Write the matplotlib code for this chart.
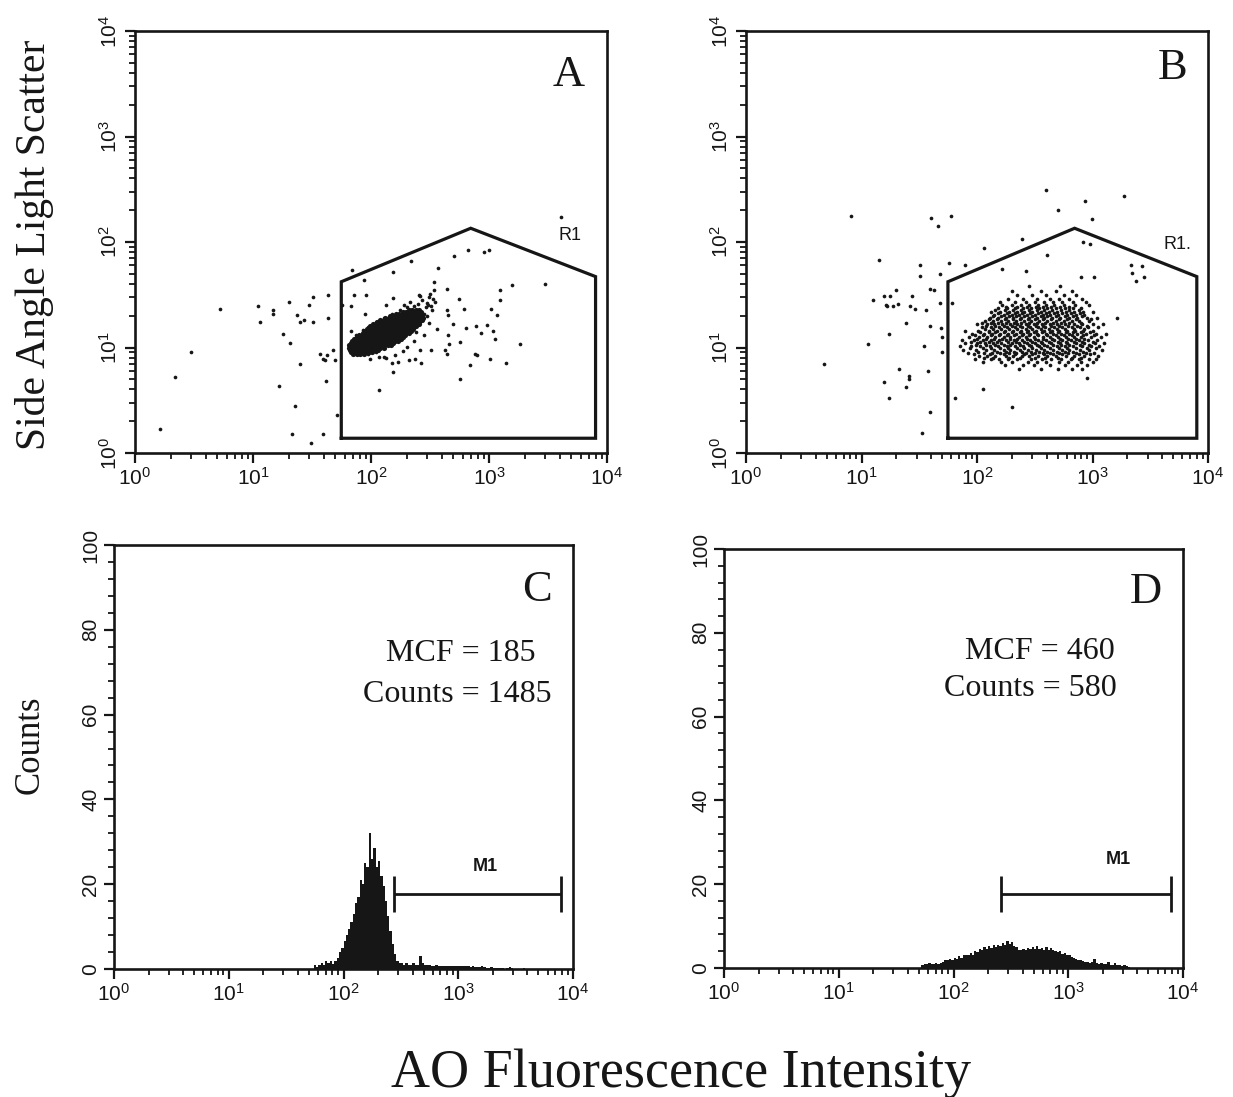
import numpy as np
import matplotlib
matplotlib.use("Agg")
import matplotlib.pyplot as plt
from matplotlib.ticker import LogLocator, MultipleLocator, NullFormatter

# ---------------- data ----------------
# R1 gate polygon (same region in A and B)
gate_x = [56, 56, 700, 8000, 8000, 56]
gate_y = [1.38, 42, 135, 47, 1.38, 1.38]

# Panel A: individual events (x = AO fluorescence, y = side scatter)
a_events = [
    (1.63, 1.68), (2.18, 5.2), (2.97, 9.1), (5.3, 23.4), (11.0, 24.7), (11.5, 17.5),
    (14.9, 21), (14.9, 22.9), (20, 27), (18.1, 13.5), (20.6, 11.1), (23.8, 20.2),
    (24.8, 17.5), (27.1, 18.4), (32.5, 17.5), (29.9, 25.5), (32.5, 30.1), (43, 31.2),
    (43.6, 19.2), (25.1, 7.0), (16.6, 4.3), (22.5, 2.77), (21.6, 1.52), (30.9, 1.25),
    (39, 1.52), (51.3, 2.28), (41.4, 4.78), (37, 8.7), (39, 7.8), (42.2, 8.4), (48, 9.4),
    (41, 7.6), (49.7, 7.6), (56.6, 25.1), (68.8, 54.7), (71.1, 31.2), (91, 31.2), (88, 44),
    (67.9, 24.5), (89, 21), (67.4, 14.2), (72, 9.4), (155, 52), (218, 66), (153, 29.4),
    (134, 25.5), (253, 31.2), (339, 41.8), (369, 56.7), (318, 32.4), (339, 34.7), (350, 27),
    (307, 25.1), (328, 22.5), (440, 36.1), (507, 73), (662, 84.6), (900, 80.4), (991, 84.6),
    (552, 29), (608, 23.4), (440, 22.5), (449, 20.2), (491, 16.8), (637, 15.3), (775, 15.9),
    (859, 13.7), (960, 16.2), (1072, 14.3), (1045, 23.4), (1230, 28), (1245, 34.8),
    (1167, 20.2), (1564, 38.8), (3000, 40.3), (1130, 12.1), (1840, 10.9), (570, 11.3),
    (449, 13.0), (454, 10.9), (420, 9.5), (440, 8.7), (764, 8.7), (789, 8.4), (693, 6.9),
    (1025, 7.8), (1400, 7.1), (570, 5.07), (324, 9.5), (366, 15.1), (261, 9.5), (266, 7.1),
    (237, 7.8), (208, 7.6), (171, 7.3), (150, 7.1), (155, 5.9), (116, 3.93), (98, 7.8),
    (128, 8.1), (4100, 173),
    (80, 12.5), (85, 9.8), (95, 8.6), (110, 9.0), (118, 8.2), (135, 8.0), (160, 8.5),
    (185, 9.2), (200, 10.2), (230, 11.5), (240, 14), (255, 17), (270, 19), (280, 21),
    (290, 24), (300, 26.5), (310, 30), (270, 28), (250, 26), (230, 25), (200, 24),
    (175, 22.5), (150, 21), (130, 19), (110, 17.5), (95, 15.5), (85, 14.5), (75, 13),
    (105, 11.0), (300, 20), (320, 24.5), (335, 29), (310, 17), (280, 13), (92, 10.6),
    (88, 11.4), (260, 30.5), (215, 27), (190, 25.5),
]

# Panel A dense population: rows of (log10 side scatter, [log10 fluorescence ...])
a_core_log10 = [
    (0.94, [1.85, 1.88, 1.91, 1.94]),
    (0.96, [1.83, 1.86, 1.89, 1.92, 1.95, 1.98, 2.01]),
    (0.98, [1.82, 1.85, 1.88, 1.91, 1.94, 1.97, 2.00, 2.03, 2.06]),
    (1.00, [1.81, 1.84, 1.87, 1.90, 1.93, 1.96, 1.99, 2.02, 2.05, 2.08, 2.11]),
    (1.02, [1.81, 1.84, 1.87, 1.90, 1.93, 1.96, 1.99, 2.02, 2.05, 2.08, 2.11, 2.14, 2.17]),
    (1.04, [1.83, 1.86, 1.89, 1.92, 1.95, 1.98, 2.01, 2.04, 2.07, 2.10, 2.13, 2.16, 2.19]),
    (1.06, [1.84, 1.87, 1.90, 1.93, 1.96, 1.99, 2.02, 2.05, 2.08, 2.11, 2.14, 2.17, 2.20, 2.23]),
    (1.08, [1.86, 1.89, 1.92, 1.95, 1.98, 2.01, 2.04, 2.07, 2.10, 2.13, 2.16, 2.19, 2.22, 2.25]),
    (1.10, [1.88, 1.91, 1.94, 1.97, 2.00, 2.03, 2.06, 2.09, 2.12, 2.15, 2.18, 2.21, 2.24, 2.27]),
    (1.12, [1.90, 1.93, 1.96, 1.99, 2.02, 2.05, 2.08, 2.11, 2.14, 2.17, 2.20, 2.23, 2.26, 2.29]),
    (1.14, [1.93, 1.96, 1.99, 2.02, 2.05, 2.08, 2.11, 2.14, 2.17, 2.20, 2.23, 2.26, 2.29, 2.32]),
    (1.16, [1.95, 1.98, 2.01, 2.04, 2.07, 2.10, 2.13, 2.16, 2.19, 2.22, 2.25, 2.28, 2.31, 2.34]),
    (1.18, [1.97, 2.00, 2.03, 2.06, 2.09, 2.12, 2.15, 2.18, 2.21, 2.24, 2.27, 2.30, 2.33, 2.36]),
    (1.20, [1.99, 2.02, 2.05, 2.08, 2.11, 2.14, 2.17, 2.20, 2.23, 2.26, 2.29, 2.32, 2.35, 2.38]),
    (1.22, [2.02, 2.05, 2.08, 2.11, 2.14, 2.17, 2.20, 2.23, 2.26, 2.29, 2.32, 2.35, 2.38, 2.41]),
    (1.24, [2.05, 2.08, 2.11, 2.14, 2.17, 2.20, 2.23, 2.26, 2.29, 2.32, 2.35, 2.38, 2.41]),
    (1.26, [2.08, 2.11, 2.14, 2.17, 2.20, 2.23, 2.26, 2.29, 2.32, 2.35, 2.38, 2.41, 2.43]),
    (1.28, [2.12, 2.15, 2.18, 2.21, 2.24, 2.27, 2.30, 2.33, 2.36, 2.39, 2.42, 2.44]),
    (1.30, [2.16, 2.19, 2.22, 2.25, 2.28, 2.31, 2.34, 2.37, 2.40, 2.43]),
    (1.32, [2.21, 2.24, 2.27, 2.30, 2.33, 2.36, 2.39, 2.42]),
    (1.34, [2.27, 2.30, 2.33, 2.36, 2.39, 2.42]),
    (1.36, [2.32, 2.35, 2.38, 2.41]),
]

# Panel B: individual events outside the main cloud
b_events = [
    (4.7, 7.0), (8.1, 178), (11.4, 10.8), (12.5, 27.9), (14.3, 68), (15.6, 30.6), (17.8, 30.6),
    (16.3, 25.5), (16.7, 24.6), (19.7, 35.4), (20.6, 25.9), (18.7, 24.6), (17.2, 13.5),
    (15.6, 4.68), (17.2, 3.3), (21.3, 6.3), (24.3, 17.1), (25.7, 5.4), (25.7, 5.07), (24.3, 4.2),
    (27.1, 31), (26.5, 25), (32, 61), (32, 48), (29.3, 23.2), (34.6, 10.3), (36.5, 22.9),
    (37.7, 6.0), (39, 36), (42.3, 35.4), (40, 169), (39.5, 16.1), (39.5, 2.43), (45.8, 143),
    (47.6, 50), (47.6, 26.5), (49, 15.3), (49.9, 12.5), (49.9, 9.0), (33.5, 1.55), (57, 63.4),
    (60.1, 176), (61, 26.5), (65.1, 3.3), (78.5, 61), (115, 88), (113, 4.05), (202, 2.73),
    (243, 107), (405, 74.5), (392, 310), (501, 203), (859, 244), (995, 166), (1870, 272),
    (826, 99.6), (944, 94.7), (2138, 61), (2210, 51), (2700, 59), (2790, 47), (2360, 42.5),
    (1637, 19.1), (901, 5.15), (789, 47), (1028, 47), (267, 53), (163, 55.6),
]

# Panel B main cloud: rows of (log10 side scatter, [log10 fluorescence ...])
b_cloud_log10 = [
    (0.80, [2.36, 2.55, 2.70, 2.82, 2.91]),
    (0.83, [2.24, 2.40, 2.49, 2.63, 2.76, 2.87, 2.95]),
    (0.86, [2.05, 2.21, 2.30, 2.44, 2.52, 2.60, 2.71, 2.79, 2.90, 3.00]),
    (0.89, [1.98, 2.12, 2.19, 2.27, 2.35, 2.47, 2.56, 2.64, 2.73, 2.81, 2.88, 2.97, 3.03]),
    (0.92, [2.02, 2.09, 2.16, 2.25, 2.31, 2.39, 2.45, 2.53, 2.61, 2.68, 2.77, 2.84, 2.93, 3.05]),
    (0.95, [1.92, 2.06, 2.13, 2.20, 2.28, 2.34, 2.42, 2.50, 2.57, 2.63, 2.71, 2.79, 2.86, 2.94, 3.01]),
    (0.98, [1.88, 1.99, 2.08, 2.15, 2.23, 2.29, 2.37, 2.44, 2.51, 2.58, 2.66, 2.74, 2.80, 2.89, 2.97, 3.08]),
    (1.01, [1.85, 1.95, 2.03, 2.11, 2.18, 2.26, 2.33, 2.40, 2.47, 2.54, 2.61, 2.69, 2.76, 2.83, 2.91, 2.99, 3.06]),
    (1.04, [1.90, 2.00, 2.07, 2.14, 2.21, 2.30, 2.36, 2.43, 2.50, 2.56, 2.64, 2.72, 2.78, 2.86, 2.93, 3.02, 3.10]),
    (1.07, [1.87, 1.97, 2.05, 2.12, 2.19, 2.25, 2.32, 2.39, 2.46, 2.53, 2.60, 2.67, 2.74, 2.81, 2.88, 2.96, 3.04]),
    (1.10, [1.93, 2.02, 2.09, 2.16, 2.23, 2.29, 2.36, 2.42, 2.49, 2.57, 2.63, 2.70, 2.77, 2.84, 2.90, 2.99, 3.07]),
    (1.13, [1.96, 2.06, 2.13, 2.20, 2.27, 2.34, 2.40, 2.46, 2.52, 2.60, 2.66, 2.73, 2.80, 2.87, 2.94, 3.03, 3.12]),
    (1.16, [1.90, 2.01, 2.10, 2.17, 2.24, 2.31, 2.38, 2.44, 2.51, 2.58, 2.65, 2.71, 2.78, 2.85, 2.92, 3.00]),
    (1.19, [2.04, 2.12, 2.19, 2.26, 2.33, 2.39, 2.46, 2.53, 2.59, 2.67, 2.74, 2.82, 2.89, 2.96, 3.05]),
    (1.22, [2.00, 2.09, 2.15, 2.22, 2.29, 2.35, 2.42, 2.49, 2.56, 2.63, 2.69, 2.76, 2.84, 2.91, 3.00, 3.09]),
    (1.25, [2.07, 2.14, 2.21, 2.27, 2.34, 2.41, 2.47, 2.54, 2.61, 2.68, 2.75, 2.82, 2.88, 2.97]),
    (1.28, [2.11, 2.18, 2.25, 2.31, 2.38, 2.45, 2.52, 2.58, 2.65, 2.72, 2.80, 2.87, 2.95, 3.04]),
    (1.31, [2.15, 2.23, 2.30, 2.36, 2.43, 2.50, 2.57, 2.63, 2.70, 2.78, 2.86, 2.93]),
    (1.34, [2.12, 2.20, 2.28, 2.35, 2.41, 2.48, 2.55, 2.62, 2.69, 2.77, 2.84, 2.92, 3.00]),
    (1.37, [2.18, 2.26, 2.33, 2.40, 2.47, 2.54, 2.61, 2.68, 2.76, 2.83, 2.90]),
    (1.40, [2.22, 2.30, 2.38, 2.45, 2.53, 2.60, 2.67, 2.75, 2.85, 2.97]),
    (1.43, [2.20, 2.33, 2.42, 2.50, 2.58, 2.66, 2.74, 2.83, 2.94]),
    (1.46, [2.27, 2.40, 2.52, 2.63, 2.71, 2.80, 2.91]),
    (1.50, [2.35, 2.48, 2.60, 2.75, 2.86]),
    (1.54, [2.30, 2.55, 2.68, 2.82]),
    (1.58, [2.45, 2.72]),
    (0.905, [2.06, 2.14, 2.28, 2.37, 2.50, 2.59, 2.70, 2.82, 2.90]),
    (0.937, [1.97, 2.11, 2.23, 2.33, 2.41, 2.48, 2.58, 2.66, 2.74, 2.88, 2.98]),
    (0.962, [2.01, 2.17, 2.25, 2.32, 2.39, 2.47, 2.54, 2.61, 2.69, 2.76, 2.83, 2.92]),
    (0.994, [1.94, 2.05, 2.12, 2.20, 2.27, 2.35, 2.41, 2.48, 2.55, 2.63, 2.71, 2.78, 2.86, 2.95, 3.03]),
    (1.023, [1.99, 2.08, 2.16, 2.23, 2.29, 2.37, 2.45, 2.52, 2.58, 2.66, 2.73, 2.80, 2.89, 2.97]),
    (1.056, [1.95, 2.03, 2.10, 2.17, 2.27, 2.34, 2.41, 2.48, 2.55, 2.62, 2.70, 2.77, 2.84, 2.91, 3.00]),
    (1.083, [2.00, 2.08, 2.15, 2.22, 2.29, 2.35, 2.43, 2.50, 2.57, 2.65, 2.72, 2.79, 2.86, 2.93]),
    (1.117, [1.98, 2.05, 2.12, 2.19, 2.26, 2.32, 2.39, 2.45, 2.53, 2.61, 2.68, 2.75, 2.82, 2.92, 3.01]),
    (1.145, [2.03, 2.10, 2.16, 2.23, 2.30, 2.37, 2.43, 2.49, 2.56, 2.63, 2.70, 2.77, 2.83, 2.90, 2.98]),
    (1.176, [2.07, 2.14, 2.21, 2.28, 2.35, 2.42, 2.48, 2.55, 2.62, 2.69, 2.76, 2.84, 2.93]),
    (1.205, [2.08, 2.16, 2.23, 2.30, 2.37, 2.44, 2.51, 2.57, 2.64, 2.71, 2.79, 2.87, 2.95]),
    (1.236, [2.04, 2.12, 2.18, 2.25, 2.32, 2.38, 2.45, 2.52, 2.59, 2.66, 2.73, 2.80, 2.90]),
    (1.266, [2.10, 2.17, 2.24, 2.31, 2.37, 2.44, 2.50, 2.57, 2.64, 2.71, 2.78, 2.86, 2.99]),
    (1.295, [2.14, 2.21, 2.28, 2.34, 2.41, 2.48, 2.55, 2.61, 2.68, 2.76, 2.83, 2.91]),
    (1.324, [2.18, 2.26, 2.33, 2.39, 2.46, 2.53, 2.60, 2.67, 2.74, 2.81, 2.89]),
    (1.356, [2.16, 2.24, 2.31, 2.38, 2.45, 2.52, 2.58, 2.65, 2.73, 2.80, 2.88]),
    (1.386, [2.25, 2.35, 2.43, 2.51, 2.57, 2.64, 2.72, 2.80]),
]

# Histograms: bins 0.02 decade wide, first bin starts at given log10 value
hist_bin_width = 0.02
c_start_log10 = 1.74
c_counts = [
    1, 0.5, 1, 1.5, 1, 2, 1.5, 2, 1.2, 2, 2.5,
    4, 5, 6.5, 8, 9.5, 11, 13, 15.5, 17, 21, 20, 25, 24, 32, 26, 28.5, 24, 25.5, 22,
    19.5, 16, 12.5, 9, 6, 3.5, 2,
    1.5, 1.5, 1, 1.5, 1, 1, 1.5, 1, 1, 3, 1.5, 1, 1, 1, 0.8, 0.8, 1, 0.8, 0.8, 0.6,
    0.8, 0.8, 0.6, 0.6, 0.8, 0.6, 0.8, 0.6, 0.8, 0.6, 0.6, 0.5, 0.6, 0.5, 0.4, 0.5,
    0.8, 0.4, 0.3, 0.3, 0.5, 0.3, 0.2, 0.2, 0.2, 0.2, 0, 0.2, 0.5, 0.3, 0, 0, 0, 0, 0.2,
]
d_start_log10 = 1.72
d_counts = [
    0.8, 1, 1, 1.2, 1, 1, 1.2, 1, 1.2, 1.5,
    2, 1.8, 2.2, 2, 2.5, 2.2, 2.8, 2.5, 3, 3.2,
    3, 3.5, 3.2, 4, 3.8, 4.5, 4.2, 5, 4.6, 5.2,
    4.8, 5.5, 5, 5.6, 5.2, 6, 5.5, 6.5, 5.8, 6.2,
    5.2, 5, 4.4, 4.2, 4.6, 4.3, 4.8, 4.5, 5, 4.6,
    5.2, 4.5, 4.8, 4.2, 5, 4.4, 4.8, 4.2, 4, 3.8,
    4, 3.4, 3.6, 3, 3.2, 2.6, 2.5, 2.2, 2, 1.8,
    1.6, 1.4, 1.5, 1.2, 1.4, 2.2, 1.2, 1, 1.2, 0.9,
    1, 1.5, 0.8, 0.8, 1.2, 0.6, 0.8, 0.5, 0.6, 0.4,
    0.3,
]

# M1 marker ranges (x from, x to, level)
m1_c = (275, 7900, 17.7)
m1_d = (257, 7900, 17.6)

panel_letters = ["A", "B", "C", "D"]
c_stats = ["MCF = 185", "Counts = 1485"]
d_stats = ["MCF = 460", "Counts = 580"]

# ---------------- figure ----------------
plt.rcParams["font.family"] = ["Liberation Sans", "DejaVu Sans"]
plt.rcParams["mathtext.fontset"] = "custom"
plt.rcParams["mathtext.rm"] = "Liberation Sans"
plt.rcParams["mathtext.it"] = "Liberation Sans:italic"
plt.rcParams["mathtext.bf"] = "Liberation Sans:bold"

W, H = 1233, 1097
fig = plt.figure(figsize=(W / 100, H / 100), dpi=100)
INK = "#161616"
SERIF = ["Liberation Serif", "DejaVu Serif"]


def px_axes(l, r, t, b):
    return fig.add_axes([l / W, 1 - b / H, (r - l) / W, (b - t) / H])


axA = px_axes(135, 607, 31, 453)
axB = px_axes(746, 1208, 31, 453)
axC = px_axes(114, 573, 545, 969)
axD = px_axes(724, 1183, 549, 968)


def style_common(ax):
    for s in ax.spines.values():
        s.set_linewidth(1.9)
        s.set_color(INK)
    ax.tick_params(which="major", direction="out", length=7, width=1.6,
                   labelsize=15, colors=INK, pad=3)
    ax.tick_params(which="minor", direction="out", length=4, width=1.3, colors=INK)
    ax.tick_params(top=False, right=False)
    ax.tick_params(axis="y", labelrotation=90)
    for lab in ax.get_yticklabels():
        lab.set_va("center")


def log_axis(axis):
    axis.set_major_locator(LogLocator(base=10, numticks=10))
    axis.set_minor_locator(LogLocator(base=10, subs=np.arange(2, 10), numticks=100))
    axis.set_minor_formatter(NullFormatter())


for ax in (axA, axB):
    ax.set_xscale("log")
    ax.set_yscale("log")
    ax.set_xlim(1, 1e4)
    ax.set_ylim(1, 1e4)
    log_axis(ax.xaxis)
    log_axis(ax.yaxis)
    style_common(ax)
    ax.plot(gate_x, gate_y, color=INK, lw=2.3, solid_joinstyle="miter")

for ax in (axC, axD):
    ax.set_xscale("log")
    ax.set_xlim(1, 1e4)
    ax.set_ylim(0, 100)
    log_axis(ax.xaxis)
    ax.yaxis.set_major_locator(MultipleLocator(20))
    ax.yaxis.set_minor_locator(MultipleLocator(4))
    style_common(ax)

# Panel A points
ae = np.array(a_events)
axA.scatter(ae[:, 0], ae[:, 1], s=7, color=INK, linewidths=0, zorder=3)
core_x = [10 ** lx for ly, row in a_core_log10 for lx in row]
core_y = [10 ** ly for ly, row in a_core_log10 for lx in row]
axA.scatter(core_x, core_y, s=14, color=INK, linewidths=0, zorder=3)

# Panel B points
be = np.array(b_events)
axB.scatter(be[:, 0], be[:, 1], s=7, color=INK, linewidths=0, zorder=3)
cl_x = [10 ** lx for ly, row in b_cloud_log10 for lx in row]
cl_y = [10 ** ly for ly, row in b_cloud_log10 for lx in row]
axB.scatter(cl_x, cl_y, s=7, color=INK, linewidths=0, zorder=3)

axA.text(4900, 116, "R1", fontsize=13, ha="center", va="center", color=INK)
axB.text(5400, 95, "R1.", fontsize=13, ha="center", va="center", color=INK)

# Histograms
for ax, start, counts, m1 in ((axC, c_start_log10, c_counts, m1_c),
                              (axD, d_start_log10, d_counts, m1_d)):
    edges = 10 ** (start + hist_bin_width * np.arange(len(counts) + 1))
    ax.stairs(counts, edges, fill=True, color=INK, baseline=0, zorder=2)
    x0, x1, lvl = m1
    ax.hlines(lvl, x0, x1, color=INK, lw=2.0)
    ax.vlines([x0, x1], lvl - 4.3, lvl + 4.3, color=INK, lw=2.0)

axC.text(1717, 22.2, "M1", fontsize=13, fontweight="bold", ha="center", va="bottom", color=INK)
axD.text(2740, 23.8, "M1", fontsize=13, fontweight="bold", ha="center", va="bottom", color=INK)

# panel letters
for ax, letter, (fx, fy) in zip((axA, axB, axC, axD), panel_letters,
                                ((0.919, 0.895), (0.923, 0.913), (0.921, 0.894), (0.918, 0.898))):
    ax.text(fx, fy, letter, transform=ax.transAxes, family=SERIF, fontsize=32,
            ha="center", va="center", color=INK)

# statistics text
axC.text(0.756, 0.745, c_stats[0], transform=axC.transAxes, family=SERIF, fontsize=23,
         ha="center", va="center", color=INK)
axC.text(0.748, 0.647, c_stats[1], transform=axC.transAxes, family=SERIF, fontsize=23,
         ha="center", va="center", color=INK)
axD.text(0.852, 0.755, d_stats[0], transform=axD.transAxes, family=SERIF, fontsize=23,
         ha="right", va="center", color=INK)
axD.text(0.855, 0.668, d_stats[1], transform=axD.transAxes, family=SERIF, fontsize=23,
         ha="right", va="center", color=INK)

# axis titles
fig.text(35 / W, 1 - 245 / H, "Side Angle Light Scatter", rotation=90, family=SERIF,
         fontsize=30, ha="center", va="center", color=INK)
fig.text(30 / W, 1 - 745 / H, "Counts", rotation=90, family=SERIF,
         fontsize=25, ha="center", va="center", color=INK)
fig.text(681 / W, 1 - 1087 / H, "AO Fluorescence Intensity", family=SERIF,
         fontsize=39, ha="center", va="baseline", color=INK)

fig.savefig("out.png", dpi=100, facecolor="white")
